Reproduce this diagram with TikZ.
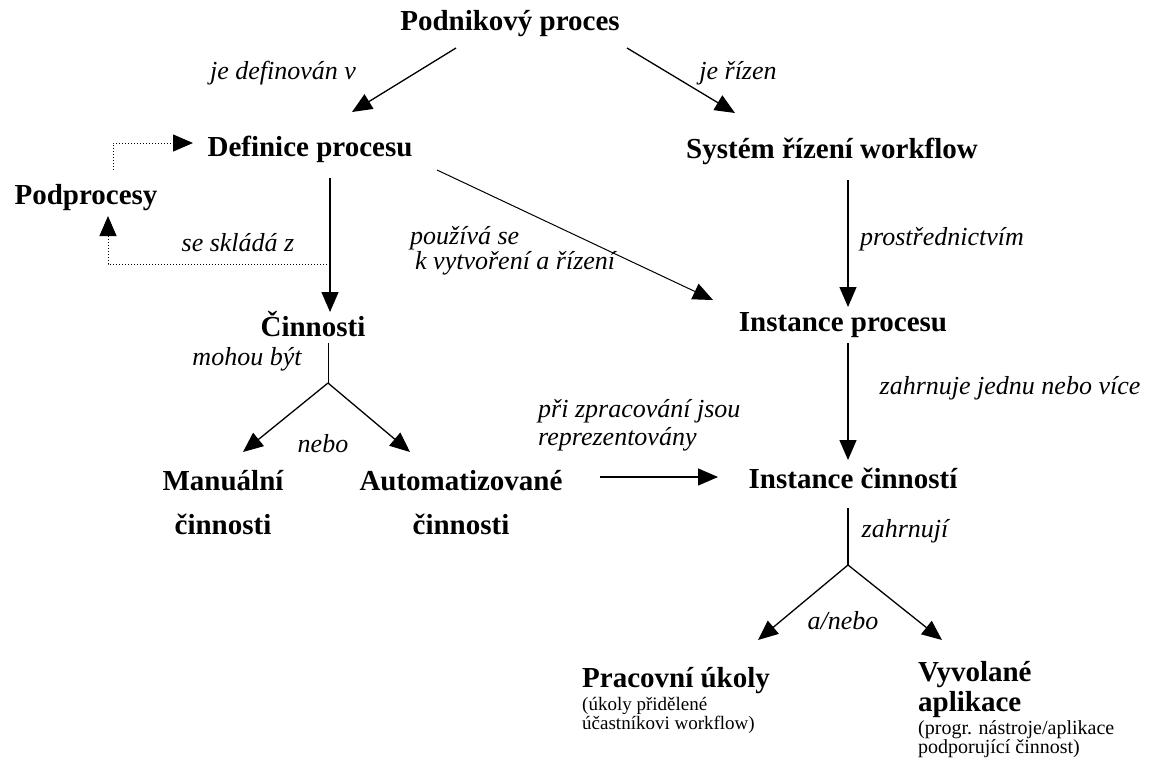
\documentclass[tikz,border=0pt]{standalone}
\usepackage{fontspec}
\setmainfont{Liberation Serif}
\usetikzlibrary{positioning, arrows.meta, calc}

\begin{document}
\begin{tikzpicture}[
    x=1pt, y=-1pt,
    >={Triangle[length=20pt, width=17pt]},
    concept/.style={font=\fontsize{29}{34}\selectfont\bfseries, inner sep=0pt},
    rel/.style={font=\fontsize{26}{30}\selectfont\itshape, inner sep=0pt},
    note/.style={font=\fontsize{19}{18}\selectfont, align=left, inner sep=0pt},
    link/.style={->, line width=1.3pt},
    dotlink/.style={->, line width=1pt, dotted},
    stem/.style={line width=1.3pt}
]
\useasboundingbox (0,0) rectangle (1176,760);

% Concepts
\node[concept] (pp) at (510,24) {Podnikový proces};
\node[concept] (dp) at (310,149) {Definice procesu};
\node[concept] (sw) at (832,151) {Systém řízení workflow};
\node[concept] (sub) at (86,198) {Podprocesy};
\node[concept] (cin) at (313,324) {Činnosti};
\node[concept] (ip) at (843,325) {Instance procesu};
\node[concept] (ic) at (853,478) {Instance činností};
\node[concept, align=center, font=\fontsize{29}{44}\selectfont\bfseries]
    (man) at (223,503) {Manuální\\činnosti};
\node[concept, align=center, font=\fontsize{29}{44}\selectfont\bfseries]
    (aut) at (461,503) {Automatizované\\činnosti};
\node[concept, anchor=west] (pu) at (582,681) {Pracovní úkoly};
\node[note, below=3pt of pu.south west, anchor=north west, font=\fontsize{19}{17}\selectfont]
    (pun) {(úkoly přidělené\\účastníkovi workflow)};
\node[concept, anchor=west, align=left, font=\fontsize{29}{30}\selectfont\bfseries]
    (va) at (918,690) {Vyvolané\\aplikace};
\node[note, below=2pt of va.south west, anchor=north west, font=\fontsize{20}{19}\selectfont]
    (van) {(progr. nástroje/aplikace\\podporující činnost)};

% Relation labels
\node[rel] (l1) at (283,73) {je definován v};
\node[rel] (l2) at (738,73) {je řízen};
\node[rel] (l3) at (238,243) {se skládá z};
\node[rel, anchor=west, align=left, font=\fontsize{26}{25}\selectfont\itshape]
    (l4) at (410,251) {používá se\\\hspace{5pt}k vytvoření a řízení};
\node[rel] (l5) at (942,239) {prostřednictvím};
\node[rel] (l6) at (247,359) {mohou být};
\node[rel] (l7) at (323,444) {nebo};
\node[rel] (l8) at (1010,388) {zahrnuje jednu nebo více};
\node[rel, anchor=west, align=left, font=\fontsize{26}{28}\selectfont\itshape]
    (l9) at (538,425) {při zpracování jsou\\reprezentovány};
\node[rel] (l10) at (905,531) {zahrnují};
\node[rel] (l11) at (843,621) {a/nebo};

% Branch points
\coordinate (j1) at (328,383);
\coordinate (j2) at (848,565);
\coordinate (src) at (600,477);

% Top level
\draw[link] ($(pp)+(-54,24)$) -- ($(dp)+(42,-37)$);
\draw[link] ($(pp)+(117,24)$) -- ($(sw)+(-97,-38)$);

% Subprocesses (dotted)
\draw[dotlink] ($(sub)+(27,-28)$) |- ($(dp)+(-117,-6)$);
\draw[dotlink] ($(dp)+(20,115)$) -| ($(sub)+(22,18)$);

% Definition and instances
\draw[link] ($(dp)+(20,29)$) -- ($(cin)+(17,-12)$);
\draw[->, line width=1pt] ($(dp)+(127,21)$) -- ($(ip)+(-130,-25)$);
\draw[link] ($(sw)+(16,29)$) -- ($(ip)+(5,-18)$);
\draw[link] ($(ip)+(5,18)$) -- ($(ic)+(-5,-18)$);
\draw[link] (src) -- ($(ic)+(-135,-1)$);

% Kinds of activities
\draw[stem, line width=1pt] ($(cin)+(15,19)$) -- (j1);
\draw[link] (j1) -- ($(man)+(20,-51)$);
\draw[link] (j1) -- ($(aut)+(-51,-51)$);

% Activity instances
\draw[stem] ($(ic)+(-5,30)$) -- (j2);
\draw[link] (j2) -- ($(pu.west)+(176,-41)$);
\draw[link] (j2) -- ($(va.west)+(24,-50)$);

\end{tikzpicture}
\end{document}
